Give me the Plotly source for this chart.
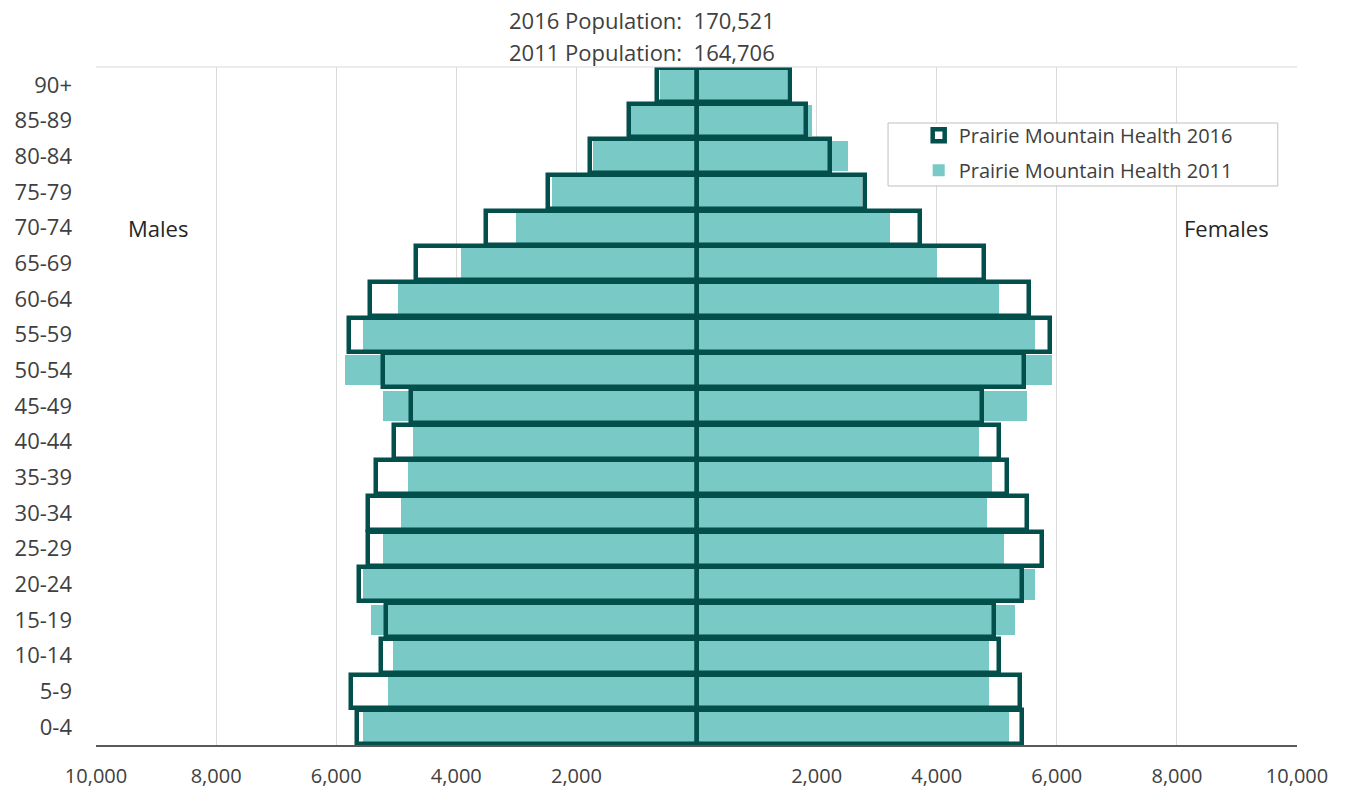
import plotly.graph_objects as go

age_groups = ["0-4", "5-9", "10-14", "15-19", "20-24", "25-29", "30-34", "35-39",
              "40-44", "45-49", "50-54", "55-59", "60-64", "65-69", "70-74",
              "75-79", "80-84", "85-89", "90+"]

males_2016 = [5650, 5750, 5250, 5170, 5620, 5470, 5470, 5330, 5030, 4750,
              5220, 5780, 5430, 4670, 3500, 2470, 1780, 1130, 660]
females_2016 = [5420, 5380, 5030, 4950, 5420, 5750, 5500, 5170, 5030, 4750,
                5450, 5880, 5530, 4780, 3720, 2800, 2220, 1830, 1550]
males_2011 = [5550, 5130, 5050, 5420, 5550, 5220, 4920, 4800, 4720, 5220,
              5850, 5550, 4970, 3920, 3000, 2400, 1730, 1100, 600]
females_2011 = [5200, 4870, 4870, 5300, 5630, 5120, 4830, 4920, 4700, 5500,
                5920, 5630, 5030, 4000, 3220, 2750, 2520, 1920, 1500]

tick_values = [-10000, -8000, -6000, -4000, -2000, 0, 2000, 4000, 6000, 8000, 10000]
tick_labels = ["10,000", "8,000", "6,000", "4,000", "2,000", "",
               "2,000", "4,000", "6,000", "8,000", "10,000"]

name_2016 = "Prairie Mountain Health 2016"
name_2011 = "Prairie Mountain Health 2011"
pop_2016 = "170,521"
pop_2011 = "164,706"

DARK = "#024F4B"
TEAL = "#79C9C6"
TXT = "#404040"
FONT = "Open Sans, Noto Sans, sans-serif"

fig = go.Figure()

# 2011 filled bars (drawn first, underneath)
fig.add_trace(go.Bar(y=age_groups, x=[-v for v in males_2011], orientation="h",
                     width=0.85, marker=dict(color=TEAL, line=dict(width=0)),
                     name=name_2011, legendgroup="2011", showlegend=True,
                     legendrank=2, hoverinfo="skip"))
fig.add_trace(go.Bar(y=age_groups, x=females_2011, orientation="h",
                     width=0.85, marker=dict(color=TEAL, line=dict(width=0)),
                     name=name_2011, legendgroup="2011", showlegend=False,
                     hoverinfo="skip"))

# 2016 outlined bars
fig.add_trace(go.Bar(y=age_groups, x=[-v for v in males_2016], orientation="h",
                     width=0.95, marker=dict(color="rgba(255,255,255,0)",
                                             line=dict(color=DARK, width=4.5)),
                     name=name_2016, legendgroup="2016", showlegend=True,
                     legendrank=1, hoverinfo="skip"))
fig.add_trace(go.Bar(y=age_groups, x=females_2016, orientation="h",
                     width=0.95, marker=dict(color="rgba(255,255,255,0)",
                                             line=dict(color=DARK, width=4.5)),
                     name=name_2016, legendgroup="2016", showlegend=False,
                     hoverinfo="skip"))

fig.update_layout(
    width=1345, height=796,
    margin=dict(l=96, r=48, t=67, b=51, autoexpand=False),
    paper_bgcolor="white", plot_bgcolor="white",
    barmode="overlay", bargap=0,
    font=dict(family=FONT, color=TXT, size=20),
    xaxis=dict(range=[-10000, 10000], tickvals=tick_values, ticktext=tick_labels,
               showgrid=True, gridcolor="#D9D9D9", gridwidth=1, zeroline=False,
               showline=True, linecolor="#595959", linewidth=2,
               tickfont=dict(size=20, color=TXT), ticks="", ticklabelstandoff=12,
               fixedrange=True),
    yaxis=dict(range=[-0.5, 18.5], categoryorder="array", categoryarray=age_groups,
               showgrid=False, zeroline=False, showline=False,
               tickfont=dict(size=22, color=TXT), ticks="", ticklabelstandoff=23,
               fixedrange=True),
    legend=dict(x=0.685, y=0.928, xanchor="left", yanchor="top",
                borderwidth=0, bgcolor="rgba(255,255,255,0)",
                font=dict(size=20, color=TXT), itemwidth=30,
                tracegroupgap=6),
    showlegend=True,
)

# top border of plot area
fig.add_shape(type="line", xref="paper", yref="paper", x0=0, x1=1, y0=1, y1=1,
              line=dict(color="#D9D9D9", width=1))
# legend frame
fig.add_shape(type="rect", xref="paper", yref="paper",
              x0=0.6595, x1=0.984, y0=0.8245, y1=0.9174,
              line=dict(color="#BFBFBF", width=1), fillcolor="white", layer="above")

fig.add_annotation(xref="paper", yref="paper", x=0.455, y=1.069,
                   text=f"2016 Population:&nbsp; {pop_2016}", showarrow=False,
                   font=dict(size=22, color=TXT), xanchor="center", yanchor="middle")
fig.add_annotation(xref="paper", yref="paper", x=0.455, y=1.022,
                   text=f"2011 Population:&nbsp; {pop_2011}", showarrow=False,
                   font=dict(size=22, color=TXT), xanchor="center", yanchor="middle")
fig.add_annotation(xref="paper", yref="paper", x=0.052, y=0.7625,
                   text="Males", showarrow=False,
                   font=dict(size=22, color="#262626"), xanchor="center", yanchor="middle")
fig.add_annotation(xref="paper", yref="paper", x=0.941, y=0.7625,
                   text="Females", showarrow=False,
                   font=dict(size=22, color="#262626"), xanchor="center", yanchor="middle")

fig.write_html("out.html", config={"displayModeBar": False},
               post_script="document.body.style.margin='0';document.body.style.overflow='hidden';")
